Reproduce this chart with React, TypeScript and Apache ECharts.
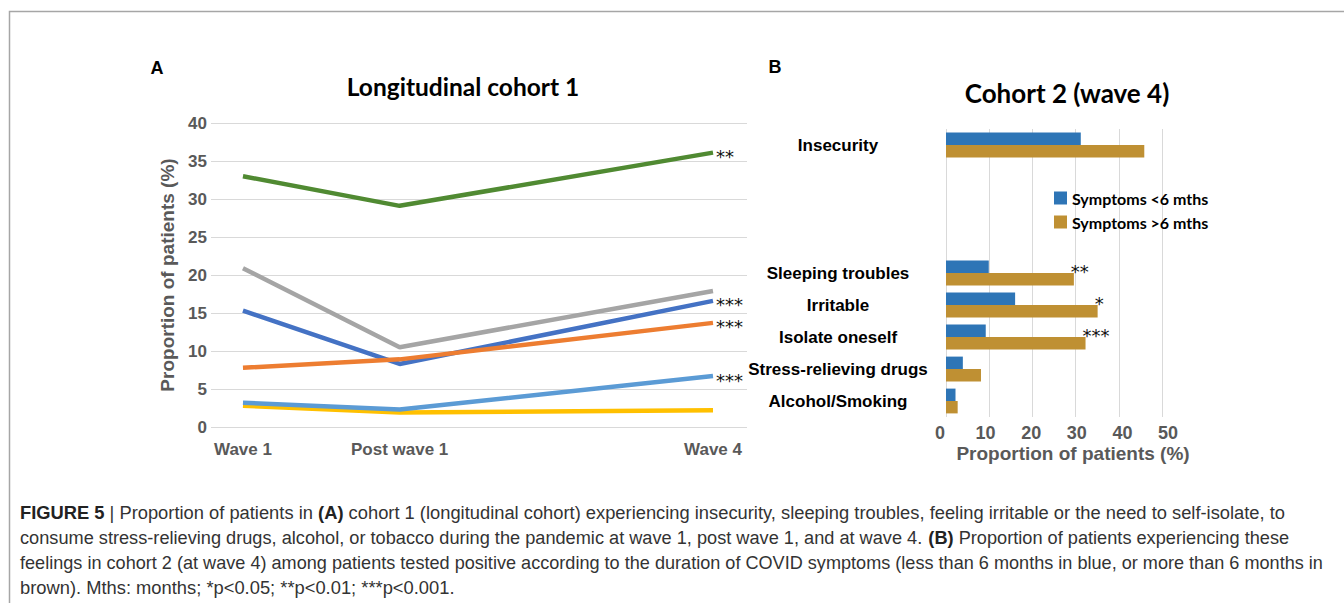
import React, { useEffect, useRef } from "react";
import * as echarts from "echarts";

// ---------- Panel A: longitudinal cohort 1 ----------
const waveLabels = ["Wave 1", "Post wave 1", "Wave 4"];
const waveNumbers = [1, 2, 4];
const c1Names = ["Insecurity", "Sleeping troubles", "Irritable", "Isolate oneself", "Stress-relieving drugs", "Alcohol/Smoking"];
const c1Insecurity = [33.0, 29.1, 36.1];
const c1Sleeping = [20.9, 10.5, 17.9];
const c1Irritable = [15.3, 8.3, 16.6];
const c1Isolate = [7.8, 8.9, 13.7];
const c1Stress = [3.2, 2.3, 6.7];
const c1Alcohol = [2.8, 1.9, 2.2];
const c1Signif = ["**", "", "***", "***", "***", ""];
const c1Colors = ["#508a32", "#a5a5a5", "#4472c4", "#ed7d31", "#5b9bd5", "#ffc000"];
const c1DrawOrder = [0, 1, 2, 3, 5, 4];

// ---------- Panel B: cohort 2 (wave 4) ----------
const c2Categories = ["Insecurity", "", "", "", "Sleeping troubles", "Irritable", "Isolate oneself", "Stress-relieving drugs", "Alcohol/Smoking"];
const c2Under6 = [31.2, null, null, null, 9.9, 16.0, 9.2, 3.9, 2.2];
const c2Over6 = [45.9, null, null, null, 29.6, 35.1, 32.3, 8.1, 2.7];
const c2Signif = ["", "", "", "", "**", "*", "***", "", ""];
const c2SeriesNames = ["Symptoms <6 mths", "Symptoms >6 mths"];
const c2Colors = ["#2e75b6", "#bf9033"];

// ---------- Caption ----------
const captionLines: { t: string; b: boolean }[][] = [
  [
    { t: "FIGURE 5", b: true },
    { t: " | Proportion of patients in ", b: false },
    { t: "(A)", b: true },
    { t: " cohort 1 (longitudinal cohort) experiencing insecurity, sleeping troubles, feeling irritable or the need to self-isolate, to", b: false },
  ],
  [
    { t: "consume stress-relieving drugs, alcohol, or tobacco during the pandemic at wave 1, post wave 1, and at wave 4. ", b: false },
    { t: "(B)", b: true },
    { t: " Proportion of patients experiencing these", b: false },
  ],
  [
    { t: "feelings in cohort 2 (at wave 4) among patients tested positive according to the duration of COVID symptoms (less than 6 months in blue, or more than 6 months in", b: false },
  ],
  [{ t: "brown). Mths: months; *p<0.05; **p<0.01; ***p<0.001.", b: false }],
];
const captionRightEdges = [1285, 1290, 1324, 455];

const SANS = "'Liberation Sans', Arial, sans-serif";
const TITLE_FONT = "Lato, 'Open Sans', sans-serif";
const CAPTION_FONT = "'Liberation Sans Narrow', 'Liberation Sans', Arial, sans-serif";
const CAPTION_SIZE = 18;
const STAR_FONT = "'DejaVu Sans', sans-serif";

function measure(segs: { t: string; b: boolean }[]) {
  const c = document.createElement("canvas").getContext("2d")!;
  let w = 0;
  for (const s of segs) {
    c.font = `${s.b ? "bold" : "normal"} ${CAPTION_SIZE}px ${CAPTION_FONT}`;
    w += c.measureText(s.t).width;
  }
  return w;
}

export default function App() {
  const ref = useRef<HTMLDivElement>(null);
  useEffect(() => {
    const chart = echarts.init(ref.current!, null, { renderer: "svg" });
    const c1Data = [c1Insecurity, c1Sleeping, c1Irritable, c1Isolate, c1Stress, c1Alcohol];

    const lineSeries = c1DrawOrder.map((i) => ({
      type: "line",
      name: c1Names[i],
      xAxisIndex: 0,
      yAxisIndex: 0,
      data: waveNumbers.map((x, k) => [x, c1Data[i][k]]),
      symbol: "none",
      color: c1Colors[i],
      lineStyle: { width: 4.5, color: c1Colors[i] },
      silent: true,
      endLabel: {
        show: c1Signif[i] !== "",
        formatter: () => c1Signif[i],
        distance: 3,
        offset: [0, 4],
        color: "#111",
        fontSize: 18,
        fontFamily: STAR_FONT,
      },
    }));

    const barSeries = [c2Under6, c2Over6].map((d, s) => ({
      type: "bar",
      name: c2SeriesNames[s],
      xAxisIndex: 1,
      yAxisIndex: 1,
      data: d,
      barWidth: 12.4,
      barGap: "0%",
      itemStyle: { color: c2Colors[s] },
      silent: true,
      label:
        s === 1
          ? {
              show: true,
              position: "right",
              distance: 0,
              offset: [-3, -8],
              formatter: (p: any) => c2Signif[p.dataIndex] || "",
              color: "#111",
              fontSize: 18,
              fontFamily: STAR_FONT,
            }
          : { show: false },
    }));

    const captionGraphics = captionLines.map((segs, li) => {
      const w = measure(segs);
      const sx = (captionRightEdges[li] - 20) / w;
      const text = segs.map((s) => (s.b ? `{b|${s.t}}` : s.t)).join("");
      return {
        type: "text",
        x: 20,
        y: 513 + li * 25,
        scaleX: sx,
        style: {
          text,
          fontFamily: CAPTION_FONT,
          fontSize: CAPTION_SIZE,
          fill: "#333",
          verticalAlign: "middle",
          align: "left",
          rich: { b: { fontWeight: "bold", fontFamily: CAPTION_FONT, fontSize: CAPTION_SIZE, fill: "#222" } },
        },
      };
    });

    const option: any = {
      animation: false,
      backgroundColor: "#ffffff",
      grid: [
        { left: 211, right: 597, top: 123, bottom: 176 },
        { left: 946, right: 182, top: 129, bottom: 186 },
        { left: 940, right: 176, top: 129, bottom: 186 },
      ],
      xAxis: [
        {
          gridIndex: 0,
          type: "value",
          min: 0.796,
          max: 4.217,
          splitLine: { show: false },
          axisLine: { show: false },
          axisTick: { show: false },
          axisLabel: {
            customValues: waveNumbers,
            formatter: (v: number) => {
              const i = waveNumbers.indexOf(v);
              return i >= 0 ? waveLabels[i] : "";
            },
            fontSize: 17,
            fontWeight: "bold",
            fontFamily: SANS,
            color: "#595959",
            margin: 14,
          },
        },
        {
          gridIndex: 1,
          type: "value",
          min: 0,
          max: 50,
          interval: 10,
          splitLine: { show: true, lineStyle: { color: "#d9d9d9", width: 1 } },
          axisLine: { show: false },
          axisTick: { show: false },
          axisLabel: { show: false },
        },
        {
          gridIndex: 2,
          type: "value",
          min: 0,
          max: 50,
          interval: 10,
          splitLine: { show: false },
          axisLine: { show: false },
          axisTick: { show: false },
          axisLabel: { fontSize: 18, fontWeight: "bold", fontFamily: SANS, color: "#595959", margin: 7 },
          name: "Proportion of patients (%)",
          nameLocation: "middle",
          nameGap: 27,
          nameTextStyle: { fontSize: 19, fontWeight: "bold", fontFamily: SANS, color: "#595959", padding: [0, 0, 0, 38] },
        },
      ],
      yAxis: [
        {
          gridIndex: 0,
          type: "value",
          min: 0,
          max: 40,
          interval: 5,
          splitLine: { show: true, lineStyle: { color: "#d9d9d9", width: 1 } },
          axisLine: { show: false },
          axisTick: { show: false },
          axisLabel: { fontSize: 17, fontWeight: "bold", fontFamily: SANS, color: "#595959", margin: 4 },
          name: "Proportion of patients (%)",
          nameLocation: "middle",
          nameGap: 34,
          nameTextStyle: { fontSize: 19, fontWeight: "bold", fontFamily: SANS, color: "#595959" },
        },
        {
          gridIndex: 1,
          type: "category",
          data: c2Categories,
          inverse: true,
          axisLine: { show: false },
          axisTick: { show: false },
          splitLine: { show: false },
          axisLabel: {
            interval: 0,
            align: "center",
            margin: 108,
            fontSize: 17,
            fontWeight: "bold",
            fontFamily: SANS,
            color: "#000",
          },
        },
        { gridIndex: 2, type: "value", show: false },
      ],
      legend: {
        data: c2SeriesNames,
        orient: "vertical",
        left: 1054,
        top: 190,
        padding: 0,
        itemWidth: 13,
        itemHeight: 13,
        itemGap: 8,
        icon: "rect",
        selectedMode: false,
        textStyle: { fontFamily: TITLE_FONT, fontWeight: "bold", fontSize: 16, color: "#000" },
      },
      series: [...lineSeries, ...barSeries],
      graphic: [
        {
          type: "polyline",
          shape: { points: [[9.5, 603], [9.5, 11.5], [1344, 11.5]] },
          style: { stroke: "#a6a6a6", lineWidth: 1.5, fill: "none" },
          silent: true,
        },
        { type: "text", x: 157, y: 68, style: { text: "A", fontFamily: SANS, fontWeight: "bold", fontSize: 18, fill: "#000", align: "center", verticalAlign: "middle" } },
        { type: "text", x: 775, y: 67, style: { text: "B", fontFamily: SANS, fontWeight: "bold", fontSize: 18, fill: "#000", align: "center", verticalAlign: "middle" } },
        { type: "text", x: 463, y: 86, style: { text: "Longitudinal cohort 1", fontFamily: TITLE_FONT, fontWeight: "bold", fontSize: 24.5, fill: "#000", align: "center", verticalAlign: "middle" } },
        { type: "text", x: 1067, y: 93, style: { text: "Cohort 2 (wave 4)", fontFamily: TITLE_FONT, fontWeight: "bold", fontSize: 26, fill: "#000", align: "center", verticalAlign: "middle" } },
        ...captionGraphics,
      ],
    };
    chart.setOption(option);
    return () => chart.dispose();
  }, []);
  return (
    <div
      ref={ref}
      style={{ position: "fixed", left: 0, top: 0, width: 1344, height: 603, background: "#fff" }}
    />
  );
}
